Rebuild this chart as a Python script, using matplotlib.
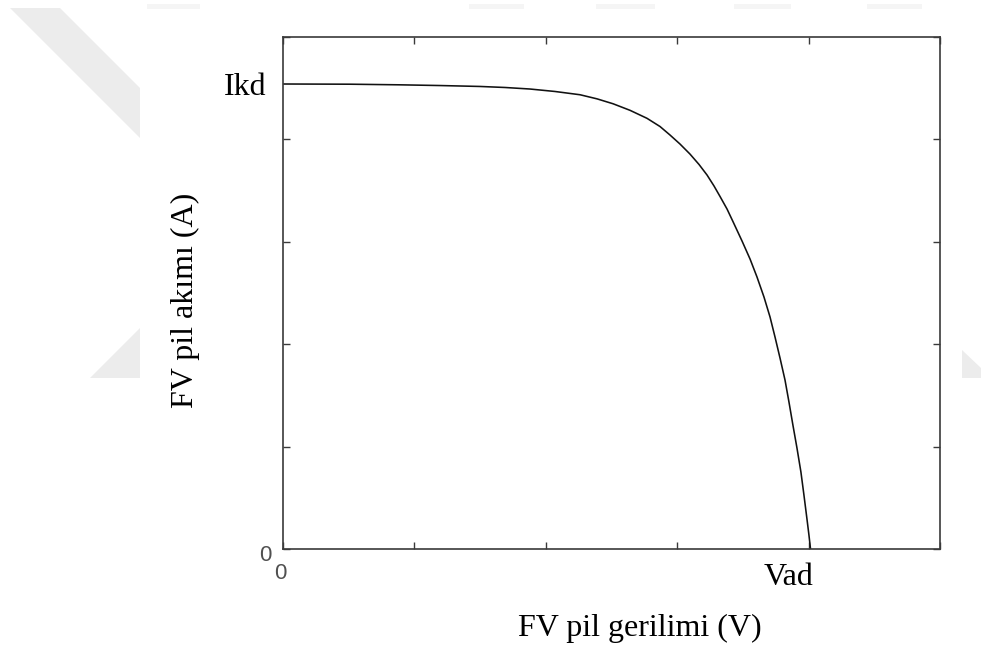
import matplotlib
matplotlib.use("Agg")
import matplotlib.pyplot as plt
from matplotlib.patches import Polygon
from matplotlib.transforms import ScaledTranslation

# ---- data ----
voltage = [0.000, 0.512, 0.892, 1.197, 1.501, 1.691, 1.881, 2.071, 2.262, 2.391,
           2.513, 2.642, 2.771, 2.870, 2.946, 3.022, 3.098, 3.167, 3.228, 3.281,
           3.327, 3.380, 3.425, 3.494, 3.555, 3.608, 3.661, 3.707, 3.745, 3.783,
           3.821, 3.851, 3.881, 3.912, 3.942, 3.965, 3.988, 4.003, 4.015]
current = [4.541, 4.539, 4.533, 4.526, 4.517, 4.507, 4.492, 4.468, 4.436, 4.396,
           4.348, 4.284, 4.206, 4.126, 4.043, 3.955, 3.857, 3.755, 3.652, 3.545,
           3.442, 3.320, 3.198, 3.008, 2.832, 2.656, 2.461, 2.266, 2.070, 1.865,
           1.650, 1.436, 1.211, 0.986, 0.752, 0.527, 0.293, 0.137, 0.000]

x_ticks = [0, 1, 2, 3, 4, 5]
x_tick_labels = ["0", "", "", "", "Vad", ""]
y_ticks = [0, 1, 2, 3, 4, 5]
y_tick_labels = ["0", "", "", "", "", ""]
ikd_value = 4.54
ikd_label = "Ikd"
x_label = "FV pil gerilimi (V)"
y_label = "FV pil akımı (A)"

# ---- figure ----
W, H = 981, 650
fig = plt.figure(figsize=(W / 100, H / 100), dpi=100)
fig.patch.set_facecolor("white")


def fpx(x, y):
    return (x / W, 1 - y / H)


# faint background watermark around the chart image
wm_shapes = [
    [(10, 8), (60, 8), (140, 88), (140, 138)],
    [(90, 378), (140, 328), (140, 378)],
    [(962, 350), (981, 368), (981, 378), (962, 378)],
]
for shp in wm_shapes:
    fig.add_artist(Polygon([fpx(*p) for p in shp], closed=True,
                           transform=fig.transFigure, facecolor="#ececec",
                           edgecolor="none", zorder=0))
for x0, x1 in [(147, 200), (469, 524), (596, 655), (734, 791), (867, 922)]:
    fig.add_artist(Polygon([fpx(x0, 4), fpx(x1, 4), fpx(x1, 9), fpx(x0, 9)],
                           closed=True, transform=fig.transFigure,
                           facecolor="#f5f5f5", edgecolor="none", zorder=0))

left, right, top, bottom = 282.7, 940, 37, 549
ax = fig.add_axes([left / W, 1 - bottom / H, (right - left) / W, (bottom - top) / H])
ax.set_facecolor("white")

ax.plot(voltage, current, color="#111111", lw=1.15,
        solid_joinstyle="round", antialiased=True)

ax.set_xlim(0, 5)
ax.set_ylim(0, 5)

spine_col = "#3a3a3a"
for s in ax.spines.values():
    s.set_color(spine_col)
    s.set_linewidth(1.2)

ax.set_xticks(x_ticks, x_tick_labels)
ax.set_yticks(y_ticks, y_tick_labels)
ax.set_yticks([ikd_value], [ikd_label], minor=True)

ax.tick_params(which="major", direction="in", length=5, width=1.0,
               top=True, right=True, color=spine_col,
               labelsize=16, labelcolor="#505050")
ax.tick_params(axis="x", which="major", pad=10.3)
ax.tick_params(axis="y", which="major", pad=8)
ax.tick_params(axis="y", which="minor", length=0, pad=12, right=False)
ax.tick_params(axis="x", which="minor", length=0)

for lab in ax.get_xticklabels() + ax.get_yticklabels():
    lab.set_fontfamily(["Liberation Sans", "DejaVu Sans"])
    lab.set_fontsize(16)

serif = ["Liberation Serif", "DejaVu Serif"]
for lab in ax.get_xticklabels():
    if lab.get_text() == "Vad":
        lab.set_fontfamily(serif)
        lab.set_fontsize(23)
        lab.set_color("black")
        lab.set_transform(lab.get_transform() +
                          ScaledTranslation(-0.20, 0, fig.dpi_scale_trans))
    elif lab.get_text() == "0":
        lab.set_transform(lab.get_transform() +
                          ScaledTranslation(-0.02, 0, fig.dpi_scale_trans))
for lab in ax.get_yticklabels():
    if lab.get_text() == "0":
        lab.set_transform(lab.get_transform() +
                          ScaledTranslation(0, -0.04, fig.dpi_scale_trans))
for lab in ax.get_yticklabels(minor=True):
    lab.set_fontfamily(serif)
    lab.set_fontsize(23)
    lab.set_color("black")

xl = ax.set_xlabel(x_label, fontfamily=serif, fontsize=23, color="black")
xl.set_va("center")
ax.xaxis.set_label_coords((640 - left) / (right - left), -(628 - bottom) / (bottom - top))

yl = ax.set_ylabel(y_label, fontfamily=serif, fontsize=23, color="black")
yl.set_va("center")
ax.yaxis.set_label_coords((185 - left) / (right - left), (bottom - 300.5) / (bottom - top))

fig.savefig("out.png", dpi=100, facecolor="white")
